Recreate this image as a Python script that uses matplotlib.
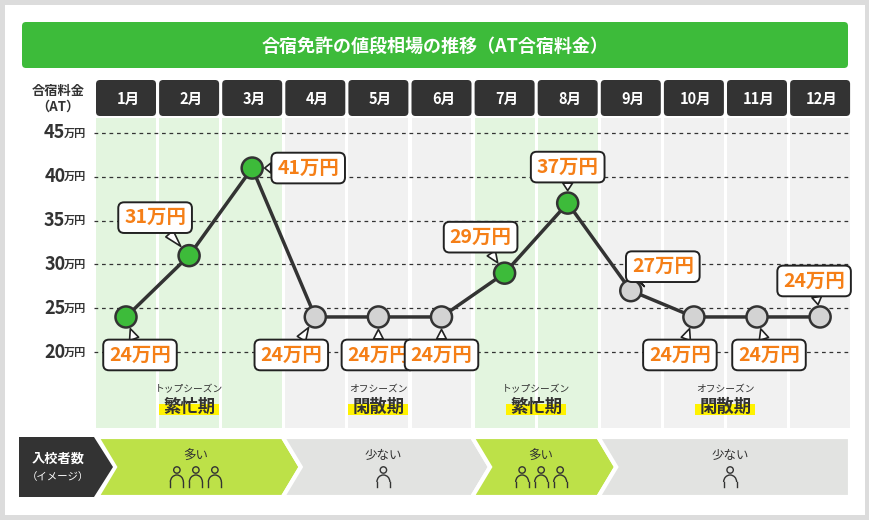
import matplotlib
matplotlib.use("Agg")
import matplotlib.pyplot as plt
from matplotlib.patches import FancyBboxPatch, Polygon, Circle, Rectangle, Arc

plt.rcParams['font.family'] = ['Noto Sans CJK JP', 'DejaVu Sans']

months = ["1月","2月","3月","4月","5月","6月","7月","8月","9月","10月","11月","12月"]
prices = [24, 31, 41, 24, 24, 24, 29, 37, 27, 24, 24, 24]
busy = [True, True, True, False, False, False, True, True, False, False, False, False]
yticks = [20, 25, 30, 35, 40, 45]
title = "合宿免許の値段相場の推移（AT合宿料金）"
seasons = [("トップシーズン", "繁忙期", 1, 3), ("オフシーズン", "閑散期", 4, 6),
           ("トップシーズン", "繁忙期", 7, 8), ("オフシーズン", "閑散期", 9, 12)]
crowd = [("多い", 3), ("少ない", 1), ("多い", 3), ("少ない", 1)]
# label offsets (pixels) for callouts
offsets = [(14, -38), (-34, 38), (56, 0), (-24, -38), (0, -38), (0, -38),
           (-24, 36), (0, 36), (32, 24), (-14, -38), (12, -38), (-6, 36)]

W, H = 870, 520
fig = plt.figure(figsize=(8.7, 5.2), dpi=100)
fig.patch.set_facecolor('#dcdcdc')
bg = fig.add_axes([0, 0, 1, 1], zorder=0)
bg.set_xlim(0, W); bg.set_ylim(H, 0); bg.axis('off')
bg.add_patch(Rectangle((5, 5), W - 10, H - 10, fc='white', ec='none'))

# title
bg.add_patch(FancyBboxPatch((22, 22), 826, 46, boxstyle="round,pad=0,rounding_size=4",
                            fc='#3dbb3a', ec='none'))
bg.text(435, 46, title, color='white', fontsize=13, fontweight='bold', ha='center', va='center')

# column geometry
x0, dx = 126, 63.1
cx = [x0 + i * dx for i in range(12)]
for i, m in enumerate(months):
    bg.add_patch(FancyBboxPatch((cx[i] - 30, 80), 60, 36, boxstyle="round,pad=0,rounding_size=4",
                                fc='#333333', ec='none'))
    bg.text(cx[i] + 2, 99, m, color='white', fontsize=10.5, fontweight='bold', ha='center', va='center')
bg.text(58, 99, "合宿料金\n（AT）", fontsize=9.5, fontweight='bold', color='#333333',
        ha='center', va='center', linespacing=1.1)

# data axes
left_px, right_px = x0 - dx / 2, x0 + 11.5 * dx
top_px, bot_px = 118, 428
pxv = (352 - 133) / 25.0
ytop = 20 + (352 - top_px) / pxv
ybot = 20 + (352 - bot_px) / pxv
ax = fig.add_axes([left_px / W, (H - bot_px) / H, (right_px - left_px) / W, (bot_px - top_px) / H], zorder=1)
ax.patch.set_alpha(0)
ax.set_xlim(0.5, 12.5); ax.set_ylim(ybot, ytop)
ax.axis('off')
xs = list(range(1, 13))
ax.bar(xs, [ytop - ybot] * 12, bottom=ybot, width=0.95,
       color=['#e3f5df' if b else '#f1f1f1' for b in busy], zorder=0)
for v in yticks:
    ax.axhline(v, color='#333333', lw=0.9, ls=(0, (3, 3)), zorder=1)
    ax.annotate("万円", (0.5, v), xytext=(-6, 0), textcoords='offset points', ha='right',
                va='center', fontsize=8, fontweight='bold', color='#333333', annotation_clip=False)
    ax.annotate(str(v), (0.5, v), xytext=(-21, 0), textcoords='offset points', ha='right',
                va='center', fontsize=13, fontweight='bold', color='#333333', annotation_clip=False)
ax.plot(xs, prices, color='#333333', lw=2.5, zorder=3)
ax.scatter(xs, prices, s=230, c=['#3dbb3a' if b else '#d3d3d3' for b in busy],
           edgecolors='#333333', linewidths=1.8, zorder=4)
for i, (x, p) in enumerate(zip(xs, prices)):
    ox, oy = offsets[i]
    ax.annotate(f"{p}万円", (x, p), xytext=(ox, oy), textcoords='offset pixels',
                ha='center', va='center', fontsize=14, fontweight='bold', color='#f57f17',
                bbox=dict(boxstyle='round,pad=0.3,rounding_size=0.3', fc='white', ec='#222222', lw=1.4),
                arrowprops=dict(arrowstyle='wedge,tail_width=0.5', fc='white', ec='#222222', lw=1.2,
                                shrinkA=0, shrinkB=9),
                zorder=5, annotation_clip=False)

# top overlay for season labels
top = fig.add_axes([0, 0, 1, 1], zorder=2)
top.set_xlim(0, W); top.set_ylim(H, 0); top.axis('off'); top.patch.set_alpha(0)
for small, big, a, b in seasons:
    c = (cx[a - 1] + cx[b - 1]) / 2
    top.add_patch(Rectangle((c - 30, 404), 60, 11, fc='#fff200', ec='none', zorder=3))
    top.text(c, 389, small, fontsize=7, color='#333333', ha='center', va='center', zorder=4)
    top.text(c, 407, big, fontsize=12.5, fontweight='bold', color='#333333', ha='center', va='center', zorder=4)

# bottom band
yt, yb = 437, 497
ym = (yt + yb) / 2
top.add_patch(Rectangle((90, 429), 770, 8, fc='white', ec='none', zorder=1))
top.add_patch(Polygon([(19, yt), (94, yt), (113, ym), (94, yb), (19, yb)], fc='#333333', ec='none', zorder=3))
top.text(58, 459, "入校者数", color='white', fontsize=9.5, fontweight='bold', ha='center', va='center', zorder=4)
top.text(58, 477, "（イメージ）", color='white', fontsize=7.5, ha='center', va='center', zorder=4)
bounds = [97, cx[2] + dx / 2 - 1, cx[5] + dx / 2 - 1, cx[7] + dx / 2 - 1, 850]
for k, (lab, n) in enumerate(crowd):
    xa, xb = bounds[k], bounds[k + 1]
    col = '#bde148' if n == 3 else '#e2e3e1'
    if k < 3:
        pts = [(xa, yt), (xb, yt), (xb + 18, ym), (xb, yb), (xa, yb), (xa + 18, ym)]
    else:
        pts = [(xa, yt), (xb, yt), (xb, yb), (xa, yb), (xa + 18, ym)]
    top.add_patch(Polygon(pts, fc=col, ec='white', lw=3, zorder=2))
    c = (xa + xb) / 2 + 6
    top.text(c, 456, lab, fontsize=9, color='#333333', ha='center', va='center', zorder=4)
    for j in range(n):
        px = c + (j - (n - 1) / 2) * 19
        top.add_patch(Circle((px, 470), 3.2, fc='none', ec='#333333', lw=1, zorder=4))
        top.add_patch(Arc((px, 482), 13, 14, theta1=180, theta2=360, ec='#333333', lw=1, zorder=4))
        top.plot([px - 6.5, px - 6.5], [482, 487], color='#333333', lw=1, zorder=4)
        top.plot([px + 6.5, px + 6.5], [482, 487], color='#333333', lw=1, zorder=4)

fig.savefig("out.png", dpi=100, facecolor=fig.get_facecolor())
